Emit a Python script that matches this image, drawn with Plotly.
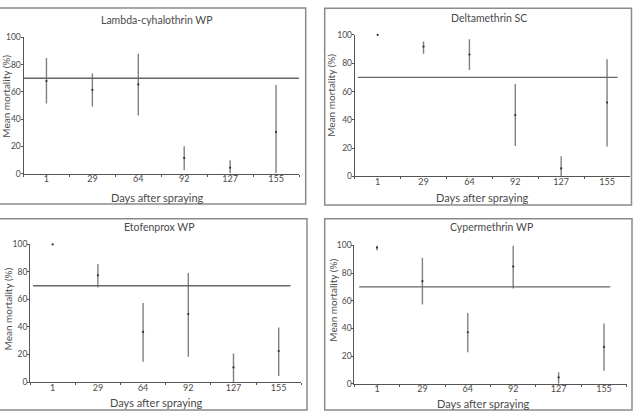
import plotly.graph_objects as go

days = ["1", "29", "64", "92", "127", "155"]
threshold = 70

titles = ["Lambda-cyhalothrin WP", "Deltamethrin SC", "Etofenprox WP", "Cypermethrin WP"]

lambda_mean = [68, 61.5, 65.5, 11.5, 4.3, 30.5]
lambda_upper = [85, 73.5, 88, 20, 9.8, 65]
lambda_lower = [51.5, 49.3, 42.6, 2.4, 0, 0]

delta_mean = [100, 91.7, 86.2, 43.4, 5.7, 52.2]
delta_upper = [100, 95.4, 97, 65.3, 14.3, 82.8]
delta_lower = [100, 86.7, 75.2, 21.6, 0, 21.1]

etof_mean = [100, 77.5, 36.4, 49.4, 10.6, 22.5]
etof_upper = [100, 85.8, 57.4, 79.2, 20.8, 39.7]
etof_lower = [100, 68.6, 14.7, 18.4, 0, 4.3]

cyper_mean = [98.4, 74.1, 37.2, 84.7, 4.5, 26.6]
cyper_upper = [100, 91, 51.1, 100, 8.2, 43.5]
cyper_lower = [96.5, 57.2, 22.8, 68.9, 0, 9.4]

yticks = [0, 20, 40, 60, 80, 100]

series = [
    (lambda_mean, lambda_upper, lambda_lower),
    (delta_mean, delta_upper, delta_lower),
    (etof_mean, etof_upper, etof_lower),
    (cyper_mean, cyper_upper, cyper_lower),
]

W, H = 633, 416
def fx(x):
    return x / W
def fy(y):
    return 1 - y / H

# plot areas in pixels: (left, right, top(y=100), bottom(y=0))
areas = [
    (23.5, 299.0, 33.3, 172.7),
    (354.7, 630.0, 30.7, 175.7),
    (30.1, 301.3, 245.3, 386.3),
    (354.3, 626.7, 246.3, 388.0),
]
# threshold line extent in x-domain fraction
hl = [(0.002, 1.0), (0.011, 0.955), (0.011, 0.96), (0.018, 0.94)]
# panel boxes (x0, y0, x1, y1) pixels
boxes = [(-2, 3, 305.7, 204), (324.7, 3.3, 631.5, 205), (-2, 219, 307, 415), (324.7, 219, 632, 415)]
title_pos = [(157, 15), (489, 13), (159, 227), (491, 227)]
ytitle_pos = [(6, 94), (331, 93), (7, 312), (333, 303)]
xtitle_pos = [(157, 197), (482, 197), (156, 407), (483, 408)]

FONT = "Lato"
TXT = "#4a4a4a"
AX = "#555555"

fig = go.Figure()
layout = dict(
    width=W, height=H, margin=dict(l=0, r=0, t=0, b=0),
    paper_bgcolor="white", plot_bgcolor="white", showlegend=False,
    font=dict(family=FONT, color=TXT, size=9),
)
shapes = []
annotations = []
for i, (mean, up, lo) in enumerate(series):
    n = "" if i == 0 else str(i + 1)
    xa, ya = "x" + n, "y" + n
    L, R, T, B = areas[i]
    fig.add_trace(go.Scatter(
        x=days, y=mean, xaxis=xa, yaxis=ya, mode="markers",
        marker=dict(size=2.2, color="#333333"), cliponaxis=False,
        error_y=dict(type="data", symmetric=False,
                     array=[u - m for u, m in zip(up, mean)],
                     arrayminus=[m - l for m, l in zip(mean, lo)],
                     thickness=1.4, width=0, color="#808080"),
    ))
    layout["xaxis" + n] = dict(
        domain=[fx(L), fx(R)], anchor=ya, type="category", range=[-0.5, 5.5],
        showline=True, linecolor=AX, linewidth=1, ticks="outside", ticklen=2,
        tickcolor=AX, tickson="boundaries", showgrid=False, zeroline=False,
        ticklabelstandoff=-3,
        tickfont=dict(size=9, color=TXT, family=FONT), fixedrange=True,
    )
    layout["yaxis" + n] = dict(
        domain=[fy(B), fy(T)], anchor=xa, range=[0, 100], tickvals=yticks,
        showline=True, linecolor=AX, linewidth=1, ticks="outside", ticklen=2,
        tickcolor=AX, showgrid=False, zeroline=False,
        ticklabelstandoff=-2,
        tickfont=dict(size=8.5, color=TXT, family=FONT), fixedrange=True,
    )
    shapes.append(dict(type="line", xref=xa + " domain", yref=ya,
                       x0=hl[i][0], x1=hl[i][1], y0=threshold, y1=threshold,
                       line=dict(color="#666666", width=1.4)))
    bx0, by0, bx1, by1 = boxes[i]
    shapes.append(dict(type="rect", xref="paper", yref="paper",
                       x0=fx(bx0), x1=fx(bx1), y0=fy(by1), y1=fy(by0),
                       line=dict(color="#8a8a8a", width=1.5)))
    annotations.append(dict(text=titles[i], x=fx(title_pos[i][0]), y=fy(title_pos[i][1]),
                            xref="paper", yref="paper", showarrow=False,
                            xanchor="center", yanchor="middle",
                            font=dict(size=10.5, color=TXT, family=FONT)))
    annotations.append(dict(text="Mean mortality (%)", x=fx(ytitle_pos[i][0]), y=fy(ytitle_pos[i][1]),
                            xref="paper", yref="paper", showarrow=False, textangle=-90,
                            xanchor="center", yanchor="middle",
                            font=dict(size=10, color=TXT, family=FONT)))
    annotations.append(dict(text="Days after spraying", x=fx(xtitle_pos[i][0]), y=fy(xtitle_pos[i][1]),
                            xref="paper", yref="paper", showarrow=False,
                            xanchor="center", yanchor="middle",
                            font=dict(size=11, color=TXT, family=FONT)))

layout["shapes"] = shapes
layout["annotations"] = annotations
fig.update_layout(**layout)
fig.write_html("out.html", config={"displayModeBar": False})
